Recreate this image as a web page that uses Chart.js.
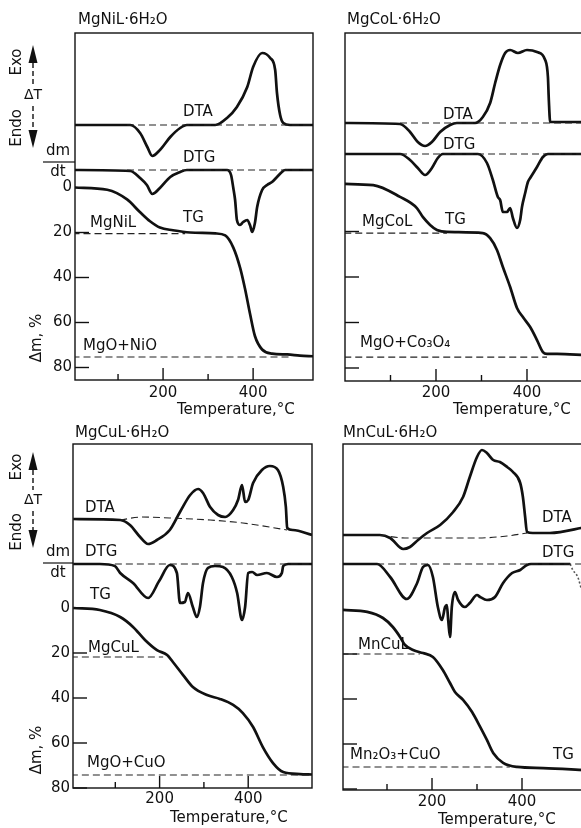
<!DOCTYPE html>
<html>
<head>
<meta charset="utf-8">
<script src="https://cdn.jsdelivr.net/npm/chart.js@4.4.1/dist/chart.umd.min.js"></script>
<style>
  html, body { margin: 0; padding: 0; background: #fff; overflow: hidden; width: 581px; height: 828px; }
  canvas { position: absolute; left: 0; top: 0; }
</style>
</head>
<body>
<script>
// --- DATA ---
// temperatures in deg C; DTA / DTG in arbitrary units (DTA up = exo, DTG down = mass loss rate); TG in % mass loss

// MgNiL·6H2O
const niDtaT = [4, 127, 149, 165, 176, 193, 216, 238, 253, 316, 342, 364, 387, 400, 420, 438, 449, 453, 460, 467, 482, 533];
const niDta  = [0, 0, -8, -22, -31, -25, -12, -3, 0, 0, 7, 18, 38, 58, 72, 67, 55, 32, 10, 2, 0, 0];
const niDtgT = [4, 127, 149, 164, 176, 193, 216, 238, 253, 342, 351, 356, 360, 364, 371, 378, 387, 393, 398, 404, 409, 420, 431, 442, 453, 464, 471, 533];
const niDtg  = [0, 1, 8, 15, 24, 18, 7, 2, 0, 0, 5, 18, 30, 50, 55, 52, 50, 55, 62, 53, 37, 20, 15, 12, 7, 2, 0, 0];
const niTgT  = [4, 76, 120, 149, 171, 193, 222, 260, 316, 338, 356, 371, 382, 393, 404, 420, 442, 476, 504, 533];
const niTg   = [0, 1, 5.3, 11, 15, 17.8, 19, 20, 20.4, 21.3, 26.7, 35.6, 45, 56, 66, 72, 73.8, 74.2, 74.7, 75];
const niDtaBaseT = [120, 533], niDtaBase = [0, 0];
const niDtgBaseT = [120, 533], niDtgBase = [0, 0];
const niRefLevels = [20.5, 75.3], niRefEnds = [249, 482];

// MgCoL·6H2O
const coDtaT = [0, 121, 143, 160, 176, 191, 209, 231, 246, 286, 303, 319, 330, 341, 352, 363, 380, 400, 422, 440, 446, 448, 451, 519, 528];
const coDta  = [0, -1, -9, -19, -23, -19, -9, -2, 0, 0, 6, 20, 40, 58, 70, 73, 70, 73, 71, 63, 46, 23, 1, 1, 1];
const coDtgT = [0, 121, 143, 160, 176, 191, 204, 215, 292, 312, 325, 336, 341, 347, 356, 363, 369, 378, 385, 389, 396, 402, 407, 422, 435, 446, 528];
const coDtg  = [0, 0, 6, 14, 21, 14, 4, 0, 0, 9, 26, 43, 46, 58, 58, 54, 64, 74, 66, 53, 39, 28, 24, 13, 3, 0, 0];
const coTgT  = [0, 62, 121, 158, 171, 187, 202, 224, 303, 319, 334, 347, 363, 378, 391, 407, 422, 435, 444, 466, 528];
const coTg   = [-0.9, -0.4, 4.8, 9.7, 13.6, 17.1, 19.3, 20.2, 20.7, 22.9, 28.1, 35.6, 44.4, 53.6, 57.6, 62, 67.7, 73, 73.8, 73.8, 74.3];
const coDtaBaseT = [121, 528], coDtaBase = [0, 0];
const coDtgBaseT = [121, 528], coDtgBase = [0, 0];
const coRefLevels = [20.7, 75.2], coRefEnds = [224, 444];

// MgCuL·6H2O
const cuDtaT = [5, 111, 133, 156, 174, 194, 223, 246, 269, 287, 298, 314, 332, 348, 366, 377, 386, 393, 400, 411, 431, 449, 467, 479, 485, 488, 501, 544];
const cuDta  = [0, -1, -6, -18, -25, -21, -11, 7, 24, 30, 26, 12, 4, 2, 9, 19, 34, 17, 19, 36, 49, 53, 49, 32, 12, -9, -11, -16];
const cuDtgT = [5, 65, 99, 111, 140, 174, 199, 223, 239, 246, 257, 264, 275, 284, 291, 298, 309, 325, 343, 363, 375, 386, 393, 400, 409, 420, 442, 465, 476, 479, 490, 544];
const cuDtg  = [0, 0, 2, 9, 19, 34, 17, 1, 9, 39, 38, 29, 43, 53, 43, 19, 4, 2, 3, 13, 29, 56, 43, 9, 8, 11, 9, 13, 9, 2, 0, 0];
const cuTgT  = [5, 65, 111, 140, 167, 194, 217, 230, 253, 275, 307, 336, 366, 388, 411, 433, 456, 479, 517, 544];
const cuTg   = [0, 0.9, 4, 8.4, 14.2, 18.7, 20.9, 24, 29.8, 35.1, 38.7, 40.4, 43.1, 46.7, 52.9, 61.8, 68.9, 72.9, 73.8, 74];
const cuDtaBaseT = [111, 160, 223, 314, 388, 488], cuDtaBase = [-1, 2, 1, -1, -4, -11];
const cuDtgBaseT = [99, 544], cuDtgBase = [0, 0];
const cuRefLevels = [21.8, 74.2], cuRefEnds = [208, 544];

// MnCuL·6H2O
const mnDtaT = [2, 84, 107, 136, 151, 169, 189, 218, 247, 269, 284, 300, 311, 322, 336, 351, 367, 380, 396, 402, 407, 411, 424, 462, 531, 540];
const mnDta  = [0, 0, -3, -14, -12, -5, 2, 10, 23, 38, 58, 78, 85, 82, 75, 73, 68, 63, 52, 38, 18, 3, 2, 2, 7, 8];
const mnDtgT = [2, 78, 107, 144, 167, 180, 191, 202, 213, 222, 229, 233, 236, 240, 244, 251, 258, 273, 284, 300, 307, 322, 340, 358, 378, 396, 411, 420, 507];
const mnDtg  = [0, 0, 13, 35, 19, 3, 1, 13, 43, 56, 43, 41, 56, 73, 43, 28, 36, 43, 39, 31, 33, 36, 33, 19, 9, 6, 1, 0, 0];
const mnDtgTailT = [507, 513, 524, 533, 540], mnDtgTail = [0, 6, 13, 26, 30];
const mnTgT  = [2, 56, 91, 113, 129, 140, 158, 180, 202, 224, 240, 251, 269, 289, 307, 322, 336, 358, 389, 447, 540];
const mnTg   = [0.4, 1.3, 4, 8, 12.4, 16, 18.2, 19.6, 21.3, 27.1, 32.9, 36.9, 40.4, 45.8, 52.4, 58.2, 64, 68.4, 70.2, 70.7, 71.6];
const mnDtaBaseT = [84, 140, 220, 300, 367, 411], mnDtaBase = [0, -3, -3, -3, -1, 2];
const mnDtgBaseT = [78, 540], mnDtgBase = [0, 0];
const mnRefLevels = [20, 70.2], mnRefEnds = [173, 373];

// axis ticks
const tempTicks = [100, 200, 300, 400];
const tempTickLabels = [200, 400];
const tgTicks = [20, 40, 60, 80];
const tgTickLabels = [0, 20, 40, 60, 80];

// --- LAYOUT ---
const W = 600, H = 828;
const FONT = '"DejaVu Sans", sans-serif';

const pts = (xs, ys) => xs.map((x, i) => ({ x, y: ys[i] }));

function refLines(levels, ends) {
    // dashed lines from the axis to where the plateau is reached
    return levels.map((lv, i) => ({
        data: [{ x: -50, y: lv }, { x: ends[i], y: lv }],
        yAxisID: 'yTg', borderColor: '#222', borderWidth: 1.1, borderDash: [7, 4]
    }));
}

function solid(data, axis) {
    return { data, yAxisID: axis, borderColor: '#111', borderWidth: 2.7, cubicInterpolationMode: 'monotone' };
}
function dashed(data, axis) {
    return { data, yAxisID: axis, borderColor: '#222', borderWidth: 1.1, borderDash: [7, 4], cubicInterpolationMode: 'monotone' };
}

function drawText(ctx, t, x, y, align, size) {
    ctx.font = (size || 15) + 'px ' + FONT;
    ctx.textAlign = align || 'left';
    ctx.textBaseline = 'middle';
    ctx.fillText(t, x, y);
}
function rotText(ctx, t, x, y, size) {
    ctx.save();
    ctx.translate(x, y);
    ctx.rotate(-Math.PI / 2);
    drawText(ctx, t, 0, 0, 'center', size);
    ctx.restore();
}
function seg(ctx, x1, y1, x2, y2) {
    ctx.beginPath(); ctx.moveTo(x1, y1); ctx.lineTo(x2, y2); ctx.stroke();
}

function framePlugin(p) {
    return {
        id: 'frame',
        beforeDatasetsDraw(chart) {
            const { ctx, chartArea: a, scales } = chart;
            ctx.save();
            ctx.strokeStyle = '#111';
            ctx.lineWidth = 1.4;
            ctx.strokeRect(a.left, a.top, a.right - a.left, a.bottom - a.top);
            tempTicks.forEach(t => {
                const x = scales.x.getPixelForValue(t);
                seg(ctx, x, a.bottom, x, a.bottom - (t % 200 === 0 ? 12 : 6));
            });
            tgTicks.forEach(v => {
                const y = scales.yTg.getPixelForValue(v);
                seg(ctx, a.left, y, a.left + 14, y);
            });
            ctx.restore();
        },
        afterDraw(chart) {
            const { ctx, chartArea: a, scales } = chart;
            ctx.save();
            ctx.fillStyle = '#111';
            ctx.strokeStyle = '#111';
            tempTickLabels.forEach(t => drawText(ctx, String(t), scales.x.getPixelForValue(t), p.xLabelY, 'center'));
            p.labels.forEach(l => drawText(ctx, l[0], l[1], l[2], 'left', l[3]));
            if (p.side) {
                const s = p.side;
                tgTickLabels.forEach(v => drawText(ctx, String(v), a.left - 3, scales.yTg.getPixelForValue(v), 'right'));
                rotText(ctx, 'Exo', 17, s.exo);
                rotText(ctx, 'Endo', 17, s.endo);
                drawText(ctx, 'ΔT', 33, s.dT, 'center', 14);
                // up arrow
                ctx.beginPath();
                ctx.moveTo(33, s.upTip); ctx.lineTo(37.5, s.upTip + 18); ctx.lineTo(28.5, s.upTip + 18); ctx.closePath(); ctx.fill();
                ctx.lineWidth = 1.4; ctx.setLineDash([5, 3]);
                seg(ctx, 33, s.upTip + 18, 33, s.dT - 10);
                seg(ctx, 33, s.dT + 11, 33, s.downTip - 18);
                ctx.setLineDash([]);
                ctx.beginPath();
                ctx.moveTo(33, s.downTip); ctx.lineTo(37.5, s.downTip - 18); ctx.lineTo(28.5, s.downTip - 18); ctx.closePath(); ctx.fill();
                // dm/dt
                drawText(ctx, 'dm', 58, s.frac - 11, 'center');
                drawText(ctx, 'dt', 58, s.frac + 10, 'center');
                ctx.lineWidth = 1.2;
                seg(ctx, 43, s.frac, a.left, s.frac);
                rotText(ctx, 'Δm, %', 37, s.dm);
            }
            ctx.restore();
        }
    };
}

function makePanel(p, sets) {
    const canvas = document.createElement('canvas');
    canvas.width = W; canvas.height = H;
    document.body.appendChild(canvas);
    const L = p.layout;
    new Chart(canvas, {
        type: 'line',
        data: { datasets: sets },
        options: {
            responsive: false, animation: false, events: [],
            layout: { padding: { left: L.left, top: L.top, right: W - L.right, bottom: H - L.bottom } },
            plugins: { legend: { display: false }, tooltip: { enabled: false } },
            elements: { point: { radius: 0 } },
            scales: {
                x: { type: 'linear', display: false, min: L.tMin, max: L.tMax },
                yDta: { type: 'linear', display: false, min: -(L.bottom - L.dtaBase), max: L.dtaBase - L.top },
                yDtg: { type: 'linear', display: false, reverse: true, min: -(L.dtgBase - L.top), max: L.bottom - L.dtgBase },
                yTg: { type: 'linear', display: false, reverse: true, min: (L.top - L.tgZero) / L.tgPx, max: (L.bottom - L.tgZero) / L.tgPx }
            }
        },
        plugins: [framePlugin(p)]
    });
}

// MgNiL
makePanel({
    layout: { left: 75, right: 313, top: 33, bottom: 380, tMin: 4.4, tMax: 533, dtaBase: 125, dtgBase: 170, tgZero: 187.5, tgPx: 2.25 },
    xLabelY: 393,
    labels: [['MgNiL·6H₂O', 78, 20], ['DTA', 183, 112], ['DTG', 183, 158], ['TG', 183, 218],
             ['MgNiL', 90, 223], ['MgO+NiO', 83, 346], ['Temperature,°C', 177, 410]],
    side: { upTip: 45, exo: 62, dT: 95, endo: 128, downTip: 148, frac: 162, dm: 338 }
}, [
    dashed(pts(niDtaBaseT, niDtaBase), 'yDta'), dashed(pts(niDtgBaseT, niDtgBase), 'yDtg'),
    ...refLines(niRefLevels, niRefEnds),
    solid(pts(niDtaT, niDta), 'yDta'), solid(pts(niDtgT, niDtg), 'yDtg'), solid(pts(niTgT, niTg), 'yTg')
]);

// MgCoL
makePanel({
    layout: { left: 345, right: 585, top: 33, bottom: 381, tMin: 0, tMax: 527.5, dtaBase: 123, dtgBase: 154, tgZero: 186, tgPx: 2.275 },
    xLabelY: 393,
    labels: [['MgCoL·6H₂O', 347, 20], ['DTA', 443, 115], ['DTG', 443, 145], ['TG', 445, 220],
             ['MgCoL', 362, 222], ['MgO+Co₃O₄', 360, 343], ['Temperature,°C', 453, 410]]
}, [
    dashed(pts(coDtaBaseT, coDtaBase), 'yDta'), dashed(pts(coDtgBaseT, coDtgBase), 'yDtg'),
    ...refLines(coRefLevels, coRefEnds),
    solid(pts(coDtaT, coDta), 'yDta'), solid(pts(coDtgT, coDtg), 'yDtg'), solid(pts(coTgT, coTg), 'yTg')
]);

// MgCuL
makePanel({
    layout: { left: 73, right: 312, top: 444, bottom: 788, tMin: 4.5, tMax: 544, dtaBase: 519, dtgBase: 564, tgZero: 608, tgPx: 2.25 },
    xLabelY: 799,
    labels: [['MgCuL·6H₂O', 75, 433], ['DTA', 85, 508], ['DTG', 85, 552], ['TG', 90, 595],
             ['MgCuL', 88, 648], ['MgO+CuO', 87, 763], ['Temperature,°C', 170, 818]],
    side: { upTip: 452, exo: 467, dT: 500, endo: 532, downTip: 548, frac: 563, dm: 750 }
}, [
    dashed(pts(cuDtaBaseT, cuDtaBase), 'yDta'), dashed(pts(cuDtgBaseT, cuDtgBase), 'yDtg'),
    ...refLines(cuRefLevels, cuRefEnds),
    solid(pts(cuDtaT, cuDta), 'yDta'), solid(pts(cuDtgT, cuDtg), 'yDtg'), solid(pts(cuTgT, cuTg), 'yTg')
]);

// MnCuL
makePanel({
    layout: { left: 343, right: 585, top: 444, bottom: 790, tMin: 2.2, tMax: 540, dtaBase: 535, dtgBase: 564, tgZero: 609, tgPx: 2.25 },
    xLabelY: 802,
    labels: [['MnCuL·6H₂O', 343, 433], ['DTA', 542, 518], ['DTG', 542, 553], ['TG', 553, 755],
             ['MnCuL', 358, 645], ['Mn₂O₃+CuO', 350, 755], ['Temperature,°C', 438, 820]]
}, [
    dashed(pts(mnDtaBaseT, mnDtaBase), 'yDta'), dashed(pts(mnDtgBaseT, mnDtgBase), 'yDtg'),
    ...refLines(mnRefLevels, mnRefEnds),
    { data: pts(mnDtgTailT, mnDtgTail), yAxisID: 'yDtg', borderColor: '#555', borderWidth: 1.6, borderDash: [2, 2], cubicInterpolationMode: 'monotone' },
    solid(pts(mnDtaT, mnDta), 'yDta'), solid(pts(mnDtgT, mnDtg), 'yDtg'), solid(pts(mnTgT, mnTg), 'yTg')
]);
</script>
</body>
</html>
